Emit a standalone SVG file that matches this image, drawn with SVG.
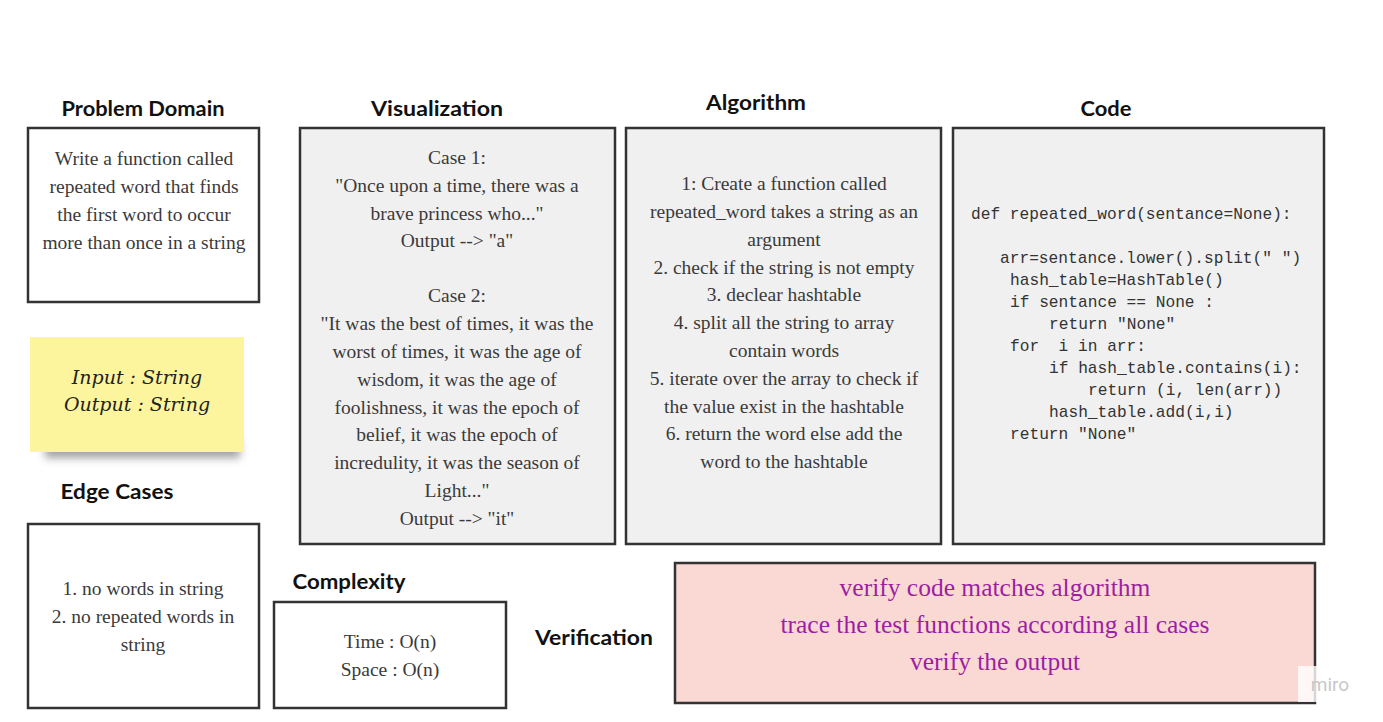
<svg xmlns="http://www.w3.org/2000/svg" width="1383" height="722" viewBox="0 0 1383 722">
<style>
.title{font-family:"Lato","Open Sans",sans-serif;font-weight:700;font-size:20px;fill:#111;text-anchor:middle}
.box{stroke:#333;stroke-width:2.5}
.white{fill:#fff}
.gray{fill:#f0f0f0}
.serif{font-family:"Liberation Serif",serif;font-size:19.5px;fill:#3a3a3a;text-anchor:middle}
.code{font-family:"Liberation Mono",monospace;font-size:16.2px;fill:#333;white-space:pre}
.hand{font-family:"DejaVu Serif",serif;font-style:italic;font-size:19px;fill:#222;text-anchor:middle}
.verif{font-family:"Liberation Serif",serif;font-size:25.5px;fill:#9c1fa3;text-anchor:middle}
</style>
<defs>
<filter id="shadow" x="-20%" y="-80%" width="140%" height="260%">
<feGaussianBlur stdDeviation="4"/>
</filter>
</defs>
<rect width="1383" height="722" fill="#fff"/>

<g id="problem-domain">
<text class="title" x="143" y="116" textLength="163" lengthAdjust="spacingAndGlyphs">Problem Domain</text>
<rect class="box white" x="28" y="128" width="231" height="174"/>
<text class="serif" x="144" y="165">Write a function called</text>
<text class="serif" x="144" y="193">repeated word that finds</text>
<text class="serif" x="144" y="221">the first word to occur</text>
<text class="serif" x="144" y="249">more than once in a string</text>
</g>

<g id="sticky-note">
<rect x="45" y="440" width="195" height="18" fill="#555" opacity="0.55" filter="url(#shadow)"/>
<rect x="30" y="337" width="214" height="115" fill="#fcf59e"/>
<text class="hand" x="137" y="384">Input : String</text>
<text class="hand" x="137" y="411">Output : String</text>
</g>

<g id="edge-cases">
<text class="title" x="117" y="499" textLength="113" lengthAdjust="spacingAndGlyphs">Edge Cases</text>
<rect class="box white" x="28" y="524" width="231" height="184"/>
<text class="serif" x="143" y="595">1. no words in string</text>
<text class="serif" x="143" y="623">2. no repeated words in</text>
<text class="serif" x="143" y="651">string</text>
</g>

<g id="visualization">
<text class="title" x="437" y="116" textLength="132" lengthAdjust="spacingAndGlyphs">Visualization</text>
<rect class="box gray" x="300" y="128" width="315" height="416"/>
<text class="serif" x="457" y="164">Case 1:</text>
<text class="serif" x="457" y="192">"Once upon a time, there was a</text>
<text class="serif" x="457" y="220">brave princess who..."</text>
<text class="serif" x="457" y="247">Output --&gt; "a"</text>
<text class="serif" x="457" y="302">Case 2:</text>
<text class="serif" x="457" y="330">"It was the best of times, it was the</text>
<text class="serif" x="457" y="358">worst of times, it was the age of</text>
<text class="serif" x="457" y="386">wisdom, it was the age of</text>
<text class="serif" x="457" y="414">foolishness, it was the epoch of</text>
<text class="serif" x="457" y="441">belief, it was the epoch of</text>
<text class="serif" x="457" y="469">incredulity, it was the season of</text>
<text class="serif" x="457" y="497">Light..."</text>
<text class="serif" x="457" y="525">Output --&gt; "it"</text>
</g>

<g id="algorithm">
<text class="title" x="756" y="110" textLength="100" lengthAdjust="spacingAndGlyphs">Algorithm</text>
<rect class="box gray" x="626" y="128" width="315" height="416"/>
<text class="serif" x="784" y="190">1:  Create a function called</text>
<text class="serif" x="784" y="218">repeated_word takes a string as an</text>
<text class="serif" x="784" y="246">argument</text>
<text class="serif" x="784" y="274">2.  check if the string is  not empty</text>
<text class="serif" x="784" y="301">3.  declear hashtable</text>
<text class="serif" x="784" y="329">4.  split all the string to array</text>
<text class="serif" x="784" y="357">contain words</text>
<text class="serif" x="784" y="385">5. iterate over the array to check if</text>
<text class="serif" x="784" y="413">the value exist in the hashtable</text>
<text class="serif" x="784" y="440">6. return the word else add the</text>
<text class="serif" x="784" y="468">word to the hashtable</text>
</g>

<g id="code">
<text class="title" x="1106" y="116" textLength="51" lengthAdjust="spacingAndGlyphs">Code</text>
<rect class="box gray" x="953" y="128" width="371" height="416"/>
<text class="code" x="971" y="219">def repeated_word(sentance=None):</text>
<text class="code" x="1000" y="263">arr=sentance.lower().split(" ")</text>
<text class="code" x="1010" y="285">hash_table=HashTable()</text>
<text class="code" x="1010" y="307">if sentance == None :</text>
<text class="code" x="1049" y="329">return "None"</text>
<text class="code" x="1010" y="351">for  i in arr:</text>
<text class="code" x="1049" y="373">if hash_table.contains(i):</text>
<text class="code" x="1088" y="395">return (i, len(arr))</text>
<text class="code" x="1049" y="417">hash_table.add(i,i)</text>
<text class="code" x="1010" y="439">return "None"</text>
</g>

<g id="complexity">
<text class="title" x="349" y="589" textLength="113" lengthAdjust="spacingAndGlyphs">Complexity</text>
<rect class="box white" x="274" y="602" width="232" height="106"/>
<text class="serif" x="390" y="648">Time : O(n)</text>
<text class="serif" x="390" y="676">Space : O(n)</text>
</g>

<g id="verification">
<text class="title" x="594" y="645" textLength="118" lengthAdjust="spacingAndGlyphs">Verification</text>
<rect class="box" x="675" y="563" width="640" height="140" fill="#fad8d3"/>
<text class="verif" x="995" y="596">verify code matches algorithm</text>
<text class="verif" x="995" y="633">trace the test functions according all cases</text>
<text class="verif" x="995" y="670">verify the output</text>
</g>

<g id="watermark">
<rect x="1298" y="666" width="60" height="36" fill="#fff" opacity="0.8"/>
<text x="1330" y="691" font-family="Roboto,sans-serif" font-size="19" fill="#c8c8c8" text-anchor="middle">miro</text>
</g>

<g id="connectors"></g>
</svg>
